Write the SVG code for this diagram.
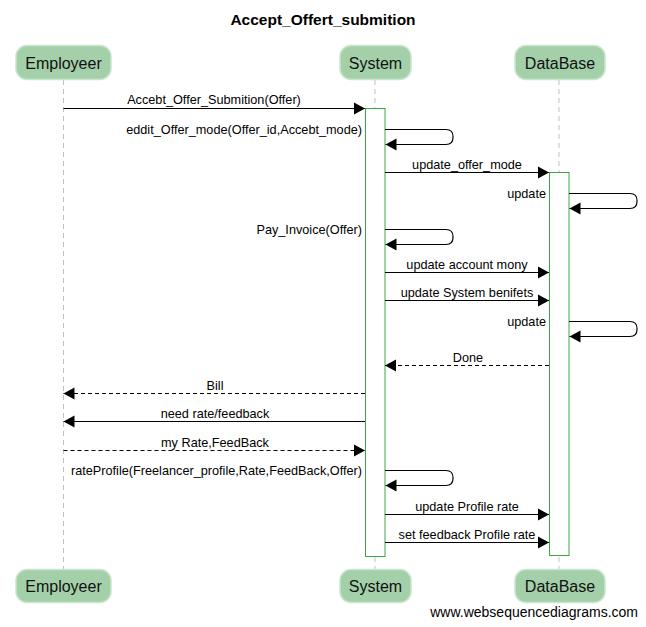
<svg xmlns="http://www.w3.org/2000/svg" width="646" height="627" viewBox="0 0 646 627">
<style>
.title{font-family:"Liberation Sans",Arial,sans-serif;font-size:15.5px;font-weight:bold;fill:#000;text-anchor:middle}
.actor rect{fill:#a3d0a9;stroke:#c9e5cd;stroke-width:1.5}
.actor text{font-family:"Liberation Sans",Arial,sans-serif;font-size:16px;fill:#111;text-anchor:middle}
.life{stroke:#c0c0c0;stroke-width:1;stroke-dasharray:5,4;fill:none}
.act{fill:#fff;stroke:#3aa845;stroke-width:1}
.msg{stroke:#000;stroke-width:1.2;fill:none}
.dash{stroke-dasharray:4,3}
.lbl{font-family:"Liberation Sans",Arial,sans-serif;font-size:12.7px;fill:#000}
.c{text-anchor:middle}
.r{text-anchor:end}
.wm{font-family:"Liberation Sans",Arial,sans-serif;font-size:14px;fill:#000;text-anchor:end}
</style>
<defs>
<marker id="ah" markerUnits="userSpaceOnUse" markerWidth="12" markerHeight="14" refX="11" refY="7" orient="auto">
<path d="M0,1 L11,7 L0,13 z" fill="#000"/>
</marker>
</defs>
<rect width="646" height="627" fill="#fff"/>
<text class="title" x="323" y="25">Accept_Offert_submition</text>

<g id="lifelines">
<line class="life" x1="63.5" y1="80" x2="63.5" y2="569"/>
<line class="life" x1="375" y1="80" x2="375" y2="569"/>
<line class="life" x1="559" y1="80" x2="559" y2="569"/>
</g>

<g id="employeer-top" class="actor"><rect x="16" y="45.5" width="95" height="34" rx="11"/><text x="63.5" y="69">Employeer</text></g>
<g id="system-top" class="actor"><rect x="340" y="45.5" width="71" height="34" rx="11"/><text x="375.5" y="69">System</text></g>
<g id="database-top" class="actor"><rect x="515" y="45.5" width="90" height="34" rx="11"/><text x="560" y="69">DataBase</text></g>

<g id="employeer-bottom" class="actor"><rect x="16" y="569.5" width="95" height="33" rx="11"/><text x="63.5" y="592">Employeer</text></g>
<g id="system-bottom" class="actor"><rect x="340" y="569.5" width="71" height="33" rx="11"/><text x="375.5" y="592">System</text></g>
<g id="database-bottom" class="actor"><rect x="515" y="569.5" width="90" height="33" rx="11"/><text x="560" y="592">DataBase</text></g>

<g id="activations">
<rect class="act" x="365.5" y="108.5" width="19.5" height="448"/>
<rect class="act" x="549.5" y="172.5" width="19.5" height="383"/>
</g>

<g id="connectors">
<line class="msg" x1="63.5" y1="108.5" x2="365" y2="108.5" marker-end="url(#ah)"/>
<text class="lbl c" x="214" y="104">Accebt_Offer_Submition(Offer)</text>

<path class="msg" d="M385,129.5 H446 Q453,129.5 453,136.5 V137.5 Q453,144.5 446,144.5 H385.5" marker-end="url(#ah)"/>
<text class="lbl r" x="362" y="134">eddit_Offer_mode(Offer_id,Accebt_mode)</text>

<line class="msg" x1="385" y1="172.5" x2="549" y2="172.5" marker-end="url(#ah)"/>
<text class="lbl c" x="467" y="169">update_offer_mode</text>

<path class="msg" d="M569,193.5 H630 Q637,193.5 637,200.5 V201.5 Q637,208.5 630,208.5 H569.5" marker-end="url(#ah)"/>
<text class="lbl r" x="546" y="198">update</text>

<path class="msg" d="M385,229.5 H446 Q453,229.5 453,236.5 V237.5 Q453,244.5 446,244.5 H385.5" marker-end="url(#ah)"/>
<text class="lbl r" x="362" y="234">Pay_Invoice(Offer)</text>

<line class="msg" x1="385" y1="272.5" x2="549" y2="272.5" marker-end="url(#ah)"/>
<text class="lbl c" x="467" y="269">update account mony</text>

<line class="msg" x1="385" y1="300.5" x2="549" y2="300.5" marker-end="url(#ah)"/>
<text class="lbl c" x="467" y="297">update System benifets</text>

<path class="msg" d="M569,321.5 H630 Q637,321.5 637,328.5 V329.5 Q637,336.5 630,336.5 H569.5" marker-end="url(#ah)"/>
<text class="lbl r" x="546" y="326">update</text>

<line class="msg dash" x1="549" y1="365.5" x2="385" y2="365.5" marker-end="url(#ah)"/>
<text class="lbl c" x="468" y="362">Done</text>

<line class="msg dash" x1="365" y1="393.5" x2="63.5" y2="393.5" marker-end="url(#ah)"/>
<text class="lbl c" x="215" y="390">Bill</text>

<line class="msg" x1="365" y1="421.5" x2="63.5" y2="421.5" marker-end="url(#ah)"/>
<text class="lbl c" x="215" y="418">need rate/feedback</text>

<line class="msg dash" x1="63.5" y1="450.5" x2="365" y2="450.5" marker-end="url(#ah)"/>
<text class="lbl c" x="215" y="447">my Rate,FeedBack</text>

<path class="msg" d="M385,470.5 H446 Q453,470.5 453,477.5 V478.5 Q453,485.5 446,485.5 H385.5" marker-end="url(#ah)"/>
<text class="lbl r" x="362" y="475">rateProfile(Freelancer_profile,Rate,FeedBack,Offer)</text>

<line class="msg" x1="385" y1="514.5" x2="549" y2="514.5" marker-end="url(#ah)"/>
<text class="lbl c" x="467" y="511">update Profile rate</text>

<line class="msg" x1="385" y1="542.5" x2="549" y2="542.5" marker-end="url(#ah)"/>
<text class="lbl c" x="467" y="539">set feedback Profile rate</text>
</g>

<text class="wm" x="638" y="617">www.websequencediagrams.com</text>
</svg>
